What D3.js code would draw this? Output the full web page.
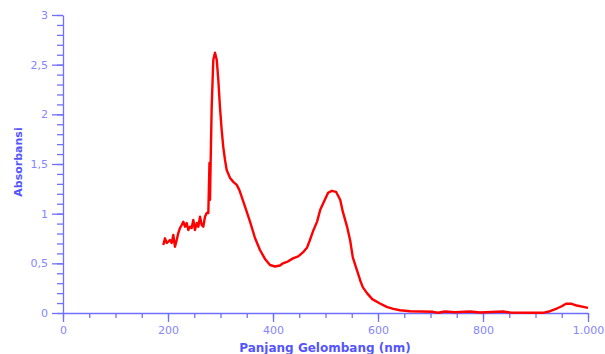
<!DOCTYPE html>
<html>
<head>
<meta charset="utf-8">
<script src="https://cdn.jsdelivr.net/npm/d3@7"></script>
<style>
  body { margin: 0; background: #fff; }
  svg { display: block; font-family: "DejaVu Sans", Verdana, sans-serif; }
</style>
</head>
<body>
<svg id="chart" width="605" height="354"></svg>
<script>
// Wavelength (nm) and absorbance
const wavelength = [
  191, 194.3, 197.5, 200.6, 203.8, 207, 210.1, 213.3, 216.6, 219.6,
  222.9, 226.1, 229.1, 232.4, 235.6, 238.7, 241.9, 245.1, 248.2, 251.4,
  254.7, 257.7, 261, 264.2, 267.2, 270.5, 273.7, 276.8, 279, 280,
  281.3, 283.2, 286.3, 289.5, 292.8, 295.8, 299, 302.3, 305.3, 308.6,
  311.8, 318.1, 324.4, 330.9, 335.8, 340.4, 346.7, 356.2, 365.7, 375.2,
  384.8, 394.3, 403.8, 413.3, 419, 429, 438, 448, 457, 465,
  470, 476, 484, 490, 497, 505, 512, 520, 528, 533,
  541, 547, 552, 560, 566, 571, 579, 589, 603.8, 616.6,
  629.1, 641.9, 661, 704.8, 714.3, 727.6, 746.7, 775.2, 794.3, 838.1,
  851.4, 895.2, 914.3, 927.6, 940.4, 950, 958.1, 969, 978.5, 991, 1000
];
const absorbance = [
  0.685, 0.752, 0.705, 0.718, 0.735, 0.705, 0.785, 0.667, 0.735, 0.805,
  0.856, 0.886, 0.919, 0.869, 0.906, 0.836, 0.869, 0.856, 0.936, 0.836,
  0.906, 0.869, 0.969, 0.886, 0.869, 0.969, 1.007, 1.007, 1.51, 1.14,
  1.54, 2.07, 2.55, 2.62, 2.55, 2.35, 2.07, 1.84, 1.67, 1.54,
  1.44, 1.36, 1.32, 1.29, 1.24, 1.17, 1.07, 0.92, 0.755, 0.634,
  0.544, 0.483, 0.468, 0.478, 0.50, 0.52, 0.55, 0.57, 0.61, 0.66,
  0.73, 0.82, 0.92, 1.04, 1.12, 1.21, 1.23, 1.22, 1.14, 1.02,
  0.87, 0.73, 0.56, 0.43, 0.33, 0.26, 0.20, 0.14, 0.096, 0.062,
  0.042, 0.028, 0.018, 0.012, 0.002, 0.015, 0.008, 0.015, 0.005, 0.015,
  0.005, 0.002, 0.002, 0.018, 0.045, 0.068, 0.093, 0.093, 0.075, 0.062, 0.052
];

const xMajor = [0, 200, 400, 600, 800, 1000];
const xMinor = d3.range(0, 1001, 50);
const yMajor = [0, 0.5, 1, 1.5, 2, 2.5, 3];
const yMinor = d3.range(0, 30.5, 1).map(v => v / 10);

const axisColor = '#7070ff';
const labelColor = '#8585ff';
const titleColor = '#5555ff';

const svg = d3.select('#chart');
const x = d3.scaleLinear().domain([0, 1000]).range([63, 588]);
const y = d3.scaleLinear().domain([0, 3]).range([313, 15]);

const fmtX = d => d3.format(',')(d).replace(/,/g, '.');
const fmtY = d => String(d).replace('.', ',');

// Minor ticks
svg.append('g')
  .attr('transform', 'translate(0,313)')
  .call(d3.axisBottom(x).tickValues(xMinor).tickSize(5).tickSizeOuter(0).tickFormat(''))
  .call(g => g.select('.domain').remove());
svg.append('g')
  .attr('transform', 'translate(63,0)')
  .call(d3.axisLeft(y).tickValues(yMinor).tickSize(6).tickSizeOuter(0).tickFormat(''))
  .call(g => g.select('.domain').remove());

// Major ticks with labels
const xAxis = svg.append('g')
  .attr('transform', 'translate(0,313)')
  .call(d3.axisBottom(x).tickValues(xMajor).tickSize(9).tickSizeOuter(0).tickPadding(4).tickFormat(fmtX));
const yAxis = svg.append('g')
  .attr('transform', 'translate(63,0)')
  .call(d3.axisLeft(y).tickValues(yMajor).tickSize(11).tickSizeOuter(0).tickPadding(4).tickFormat(fmtY));

svg.selectAll('.tick line, .domain')
  .attr('stroke', axisColor)
  .attr('stroke-width', 1.3);
[xAxis, yAxis].forEach(a => a.selectAll('text')
  .attr('fill', labelColor)
  .style('font-size', '11px')
  .style('font-family', '"DejaVu Sans", Verdana, sans-serif'));

// Axis titles
svg.append('text')
  .attr('x', 325)
  .attr('y', 352)
  .attr('text-anchor', 'middle')
  .attr('fill', titleColor)
  .style('font-size', '12px')
  .style('font-weight', 'bold')
  .text('Panjang Gelombang (nm)');
svg.append('text')
  .attr('transform', 'translate(22,162) rotate(-90)')
  .attr('text-anchor', 'middle')
  .attr('fill', titleColor)
  .style('font-size', '11px')
  .style('font-weight', 'bold')
  .text('Absorbansi');

// Spectrum
const pts = wavelength.map((w, i) => [w, absorbance[i]]);
svg.append('path')
  .datum(pts)
  .attr('fill', 'none')
  .attr('stroke', '#ff0000')
  .attr('stroke-width', 2.4)
  .attr('stroke-linejoin', 'round')
  .attr('d', d3.line().x(d => x(d[0])).y(d => y(d[1])));
</script>
</body>
</html>
